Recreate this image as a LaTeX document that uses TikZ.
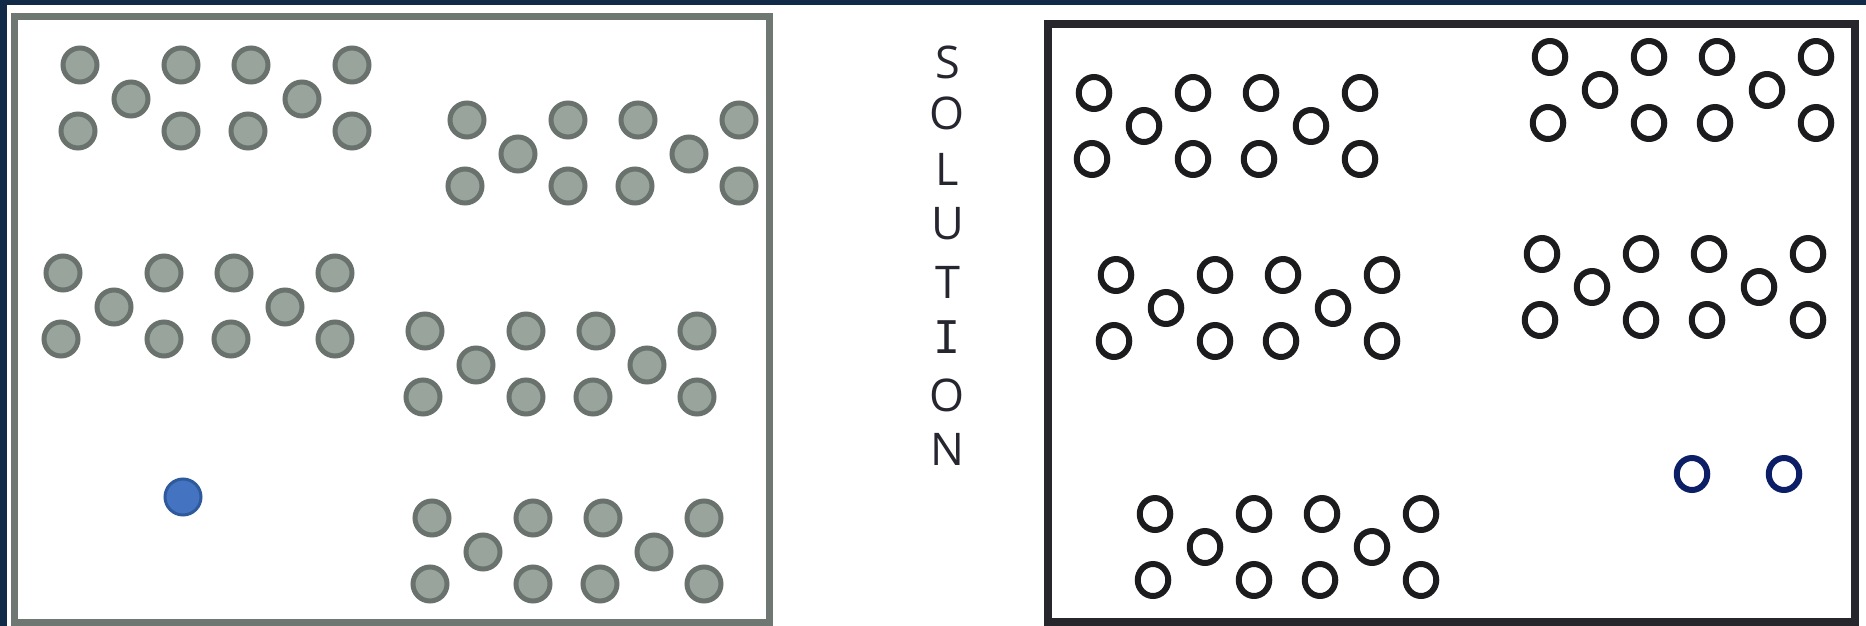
\documentclass[tikz,border=0pt]{standalone}
\usepackage{fontspec}
\setmainfont{Open Sans}
\newfontfamily\monoI{DejaVu Sans Mono}
\usetikzlibrary{shapes.geometric}
\definecolor{navybg}{HTML}{112A47}
\definecolor{lboxc}{HTML}{6F7773}
\definecolor{rboxc}{HTML}{26262C}
\definecolor{gline}{HTML}{6A726E}
\definecolor{gfill}{HTML}{98A49C}
\definecolor{bfill}{HTML}{4473C2}
\definecolor{bline}{HTML}{2E5A9C}
\definecolor{oline}{HTML}{1C1C1E}
\definecolor{navyo}{HTML}{0C1F66}
\definecolor{txt}{HTML}{262630}
\tikzset{
  leftbox/.style={draw=lboxc,line width=7pt},
  rightbox/.style={draw=rboxc,line width=8pt},
  gdot/.style={ellipse,draw=gline,fill=gfill,line width=5pt,minimum width=34pt,minimum height=34pt,inner sep=0pt},
  bdot/.style={ellipse,draw=bline,fill=bfill,line width=3pt,minimum width=36pt,minimum height=36pt,inner sep=0pt},
  odot/.style={ellipse,draw=oline,line width=6pt,minimum width=30.5pt,minimum height=32pt,inner sep=0pt},
  bodot/.style={odot,draw=navyo},
  letter/.style={text=txt,font=\fontsize{45}{45}\selectfont,inner sep=0pt,anchor=center}
}
\begin{document}
\begin{tikzpicture}[x=1pt,y=-1pt]
\useasboundingbox (0,0) rectangle (1866,626);
\fill[navybg] (0,0) rectangle (1866,626);
\fill[white] (7,5) rectangle (1866,626);
\draw[leftbox] (14.5,16.5) rectangle (769,622);
\draw[rightbox] (1048,24.5) rectangle (1855,622);
% filled grey groups
\foreach \g/\ox/\oy in {A/80/65,B/467/120,C/63/273,D/425/331,E/432/518}{
  \foreach \i/\dx/\dy in {1/0/0,2/101/0,3/171/0,4/272/0,5/51/34,6/222/34,7/-2/66,8/101/66,9/168/66,10/272/66}{
    \node[gdot] (\g\i) at (\ox+\dx,\oy+\dy) {};
  }
}
\node[bdot] (blue) at (183,497) {};
% open groups
\foreach \g/\ox/\oy in {F/1094/93,G/1550/57,H/1116/275,I/1542/254,J/1155/514}{
  \foreach \i/\dx/\dy in {1/0/0,2/99/0,3/167/0,4/266/0,5/50/33,6/217/33,7/-2/66,8/99/66,9/165/66,10/266/66}{
    \node[odot] (\g\i) at (\ox+\dx,\oy+\dy) {};
  }
}
\node[bodot] (bo1) at (1692,474) {};
\node[bodot] (bo2) at (1784,474) {};
% vertical word
\node[letter] (l1) at (947.5,62) {S};
\node[letter] (l2) at (947.5,113) {O};
\node[letter] (l3) at (947.5,169) {L};
\node[letter] (l4) at (947.5,224) {U};
\node[letter] (l5) at (947.5,282) {T};
\node[letter] (l6) at (947.5,337) {\monoI I};
\node[letter] (l7) at (947.5,395) {O};
\node[letter] (l8) at (947.5,449) {N};
\end{tikzpicture}
\end{document}
